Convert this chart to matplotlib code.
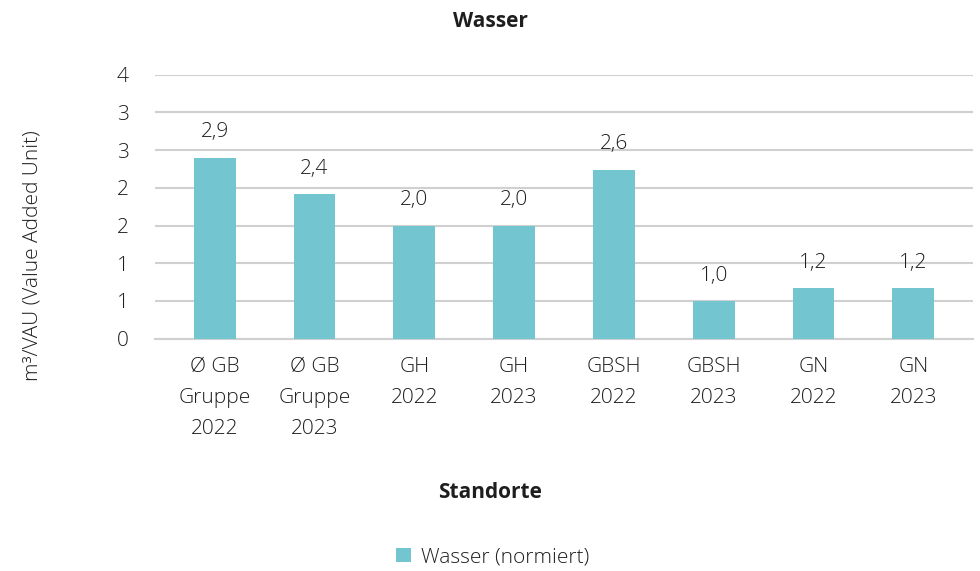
import matplotlib.pyplot as plt
import numpy as np

plt.rcParams['font.family'] = ['Open Sans', 'DejaVu Sans']

# data
categories = ['Ø GB\nGruppe\n2022', 'Ø GB\nGruppe\n2023', 'GH\n2022', 'GH\n2023',
              'GBSH\n2022', 'GBSH\n2023', 'GN\n2022', 'GN\n2023']
values = [2.90, 2.42, 2.00, 2.00, 2.74, 1.00, 1.17, 1.17]
value_labels = ['2,9', '2,4', '2,0', '2,0', '2,6', '1,0', '1,2', '1,2']
y_ticks = [0.5, 1.0, 1.5, 2.0, 2.5, 3.0, 3.5, 4.0]
y_tick_labels = ['0', '1', '1', '2', '2', '3', '3', '4']

bar_color = '#73C6D0'
text_color = '#1E1E1E'
grid_color = '#D0D0D0'
fs = 15

fig = plt.figure(figsize=(9.8, 5.71), dpi=100)
ax = fig.add_axes([0.158, 0.4068, 0.835, 0.4624])

x = np.arange(len(categories))
bars = ax.bar(x, values, width=0.42, color=bar_color, zorder=3, label='Wasser (normiert)')

for xi, v, lab in zip(x, values, value_labels):
    ax.annotate(lab, (xi, v), xytext=(0, 11), textcoords='offset points',
                ha='center', va='bottom', fontsize=fs, color=text_color,
                fontweight='light')

ax.set_xlim(-0.6, 7.6)
ax.set_ylim(0.5, 4.0)
ax.set_yticks(y_ticks)
ax.set_yticklabels(y_tick_labels, fontweight='light')
ax.set_xticks(x)
ax.set_xticklabels(categories, linespacing=1.74, fontweight='light')
ax.tick_params(axis='y', length=0, pad=19, labelsize=fs, labelcolor=text_color)
ax.tick_params(axis='x', length=0, pad=13, labelsize=fs, labelcolor=text_color)

ax.grid(axis='y', color=grid_color, linewidth=1.5, zorder=0)
for s in ['top', 'right', 'left']:
    ax.spines[s].set_visible(False)
ax.spines['bottom'].set_color(grid_color)
ax.spines['bottom'].set_linewidth(1.5)

fig.text(0.5, 0.962, 'Wasser', ha='center', va='center', fontsize=15,
         fontweight='bold', color=text_color)
fig.text(0.5, 0.137, 'Standorte', ha='center', va='center', fontsize=15,
         fontweight='bold', color=text_color)
fig.text(0.033, 0.552, 'm³/VAU (Value Added Unit)', ha='center', va='center',
         rotation=90, fontsize=fs, color=text_color, fontweight='light')

fig.legend(handles=[bars], labels=['Wasser (normiert)'], loc='center',
           bbox_to_anchor=(0.503, 0.024), frameon=False,
           prop={'size': fs, 'weight': 'light'},
           handlelength=0.7, handleheight=0.7, handletextpad=0.5,
           labelcolor=text_color)

fig.savefig('out.png', dpi=100)
